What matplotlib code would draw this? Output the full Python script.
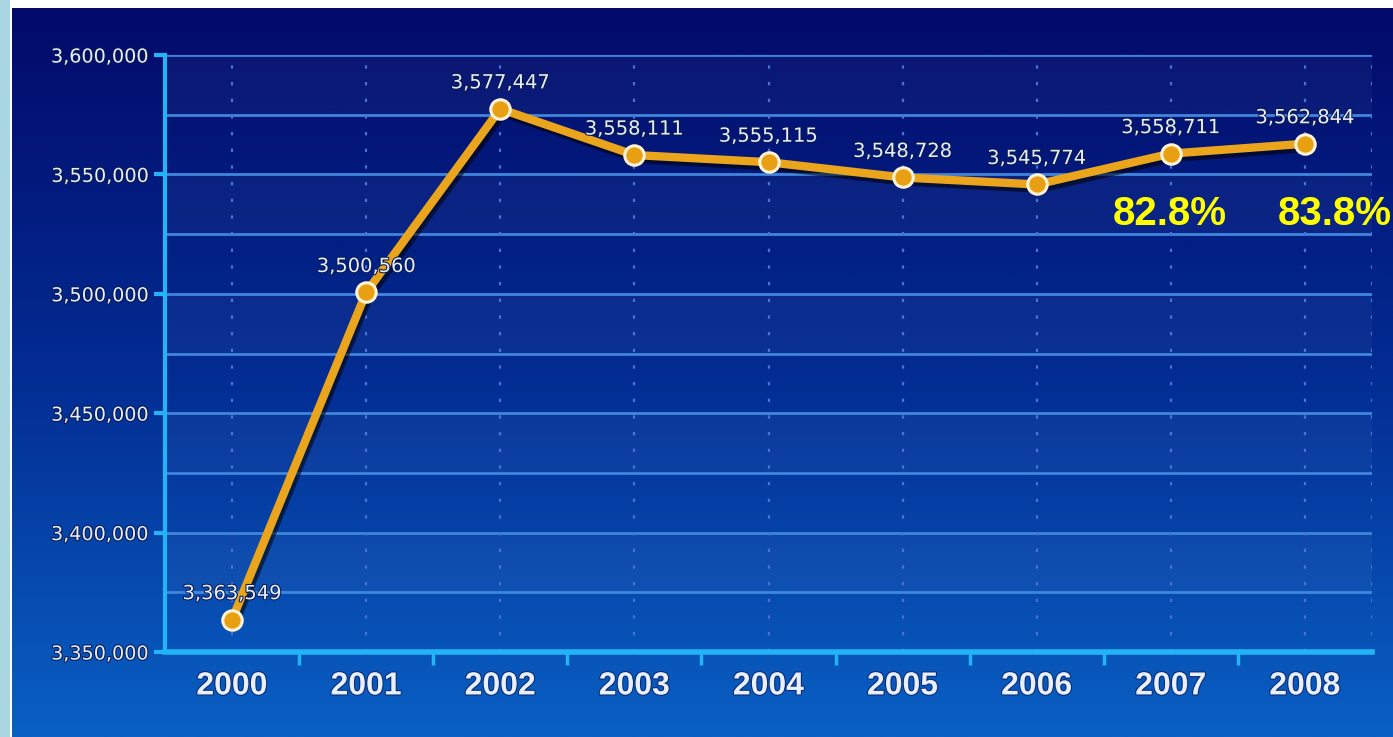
import numpy as np
import matplotlib
matplotlib.use('Agg')
import matplotlib.pyplot as plt
import matplotlib.patheffects as pe
from matplotlib.colors import LinearSegmentedColormap
from matplotlib.ticker import FuncFormatter

# данные
years = ['2000', '2001', '2002', '2003', '2004', '2005', '2006', '2007', '2008']
values = [3363549, 3500560, 3577447, 3558111, 3555115, 3548728, 3545774, 3558711, 3562844]
value_labels = ['3,363,549', '3,500,560', '3,577,447', '3,558,111', '3,555,115',
                '3,548,728', '3,545,774', '3,558,711', '3,562,844']
pct_years = [7, 8]
pct_labels = ['82.8%', '83.8%']
y_ticks = [3350000, 3400000, 3450000, 3500000, 3550000, 3600000]

plt.rcParams['font.family'] = ['Liberation Sans', 'DejaVu Sans']

fig = plt.figure(figsize=(13.93, 7.37), dpi=100)
fig.patch.set_facecolor('white')

# светлая полоса слева
strip = fig.add_axes([0, 0, 10 / 1393, 1])
strip.set_axis_off()
strip.add_patch(plt.Rectangle((0, 0), 1, 1, color='#a9d6e0', transform=strip.transAxes))

# фон с градиентом
bg = fig.add_axes([12 / 1393, 0, 1 - 12 / 1393, 1 - 8 / 737])
cmap = LinearSegmentedColormap.from_list('bg', ['#020a6a', '#022c92', '#0a60c4'])
grad = np.linspace(0, 1, 256).reshape(-1, 1)
bg.imshow(grad, aspect='auto', cmap=cmap, extent=[0, 1, 0, 1], origin='upper')
bg.set_axis_off()

ax = fig.add_axes([165 / 1393, 1 - 652 / 737, (1372 - 165) / 1393, (652 - 55) / 737])
ax.set_facecolor('none')
x = np.arange(len(years))
ax.set_xlim(-0.5, len(years) - 0.5)
ax.set_ylim(3350000, 3600000)

# полосы между линиями сетки
for k, lo in enumerate(range(3350000, 3600000, 25000)):
    if k % 2 == 1:
        ax.axhspan(lo, lo + 25000, color='white', alpha=0.035, lw=0, zorder=0)

for yy in range(3375000, 3600001, 25000):
    ax.axhline(yy, color='#3f86dc', lw=2, zorder=1)
for xx in list(x) + [len(years) - 0.5]:
    ax.axvline(xx, color='#4a72d4', lw=1.6, ls=(0, (1.5, 6)), zorder=1)

# линия с тенью
ax.plot(x, values, color='#eaa51c', lw=6, zorder=3, solid_capstyle='round',
        path_effects=[pe.SimpleLineShadow(offset=(2, -3), shadow_color='black', alpha=0.55),
                      pe.Normal()])
ax.plot(x, values, ls='none', marker='o', ms=14, mfc='#e8a012', mec='#fff3d6', mew=2.2, zorder=4)

for xi, v, lab in zip(x, values, value_labels):
    ax.annotate(lab, (xi, v), xytext=(0, 26), textcoords='offset pixels', ha='center', va='center',
                color='#e8f0ff', fontsize=14, family='DejaVu Sans', zorder=5,
                path_effects=[pe.withStroke(linewidth=1.5, foreground='#0a1a50')])

for xi, lab in zip(pct_years, pct_labels):
    ax.text(xi - 0.01 + 0.23 * (xi - 7), 3533500, lab, ha='center', va='center', color='#ffff00',
            fontsize=29, fontweight='bold', zorder=5, clip_on=False)

for side in ['top', 'right']:
    ax.spines[side].set_visible(False)
ax.spines['left'].set_color('#22b4f4')
ax.spines['left'].set_linewidth(3)
ax.spines['bottom'].set_color('#22b4f4')
ax.spines['bottom'].set_linewidth(4)

ax.set_yticks(y_ticks)
ax.yaxis.set_major_formatter(FuncFormatter(lambda v, p: f'{int(v):,}'))
ax.tick_params(axis='y', colors='#22b4f4', length=8, width=3, labelcolor='#e8f0ff', labelsize=13.8, pad=4)
for t in ax.get_yticklabels():
    t.set_family('DejaVu Sans')
    t.set_path_effects([pe.withStroke(linewidth=1.5, foreground='#0a1a50')])

ax.set_xticks(x)
ax.set_xticklabels(years)
ax.set_xticks(np.arange(0.5, len(years) - 1, 1.0), minor=True)
ax.tick_params(axis='x', which='major', length=0, labelcolor='#e8f0ff', labelsize=23, pad=14)
ax.tick_params(axis='x', which='minor', length=9, width=2.5, colors='#22b4f4')
for t in ax.get_xticklabels():
    t.set_fontweight('bold')
    t.set_path_effects([pe.withStroke(linewidth=1.5, foreground='#0a2a70')])

fig.savefig('out.png', dpi=100)
